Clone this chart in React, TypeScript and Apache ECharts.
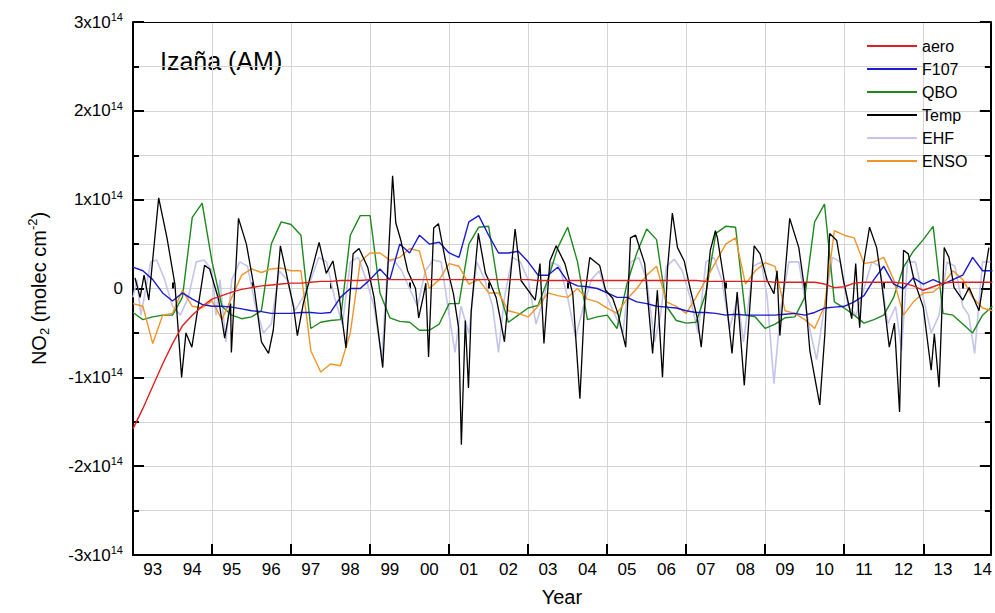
import React, { useEffect, useRef } from "react";
import * as echarts from "echarts";

const START_YEAR = 1993;
const STEP = 0.25;

const aero = [-1.58,-1.35,-1.1,-0.85,-0.62,-0.42,-0.3,-0.2,-0.12,-0.08,-0.04,-0.01,0.01,0.03,0.04,0.05,0.06,0.06,0.07,0.08,0.08,0.09,0.09,0.09,0.1,0.1,0.1,0.1,0.1,0.1,0.1,0.1,0.1,0.1,0.1,0.1,0.1,0.1,0.1,0.1,0.1,0.09,0.09,0.09,0.09,0.09,0.09,0.09,0.09,0.09,0.09,0.09,0.09,0.09,0.09,0.09,0.09,0.09,0.08,0.08,0.08,0.08,0.08,0.08,0.08,0.07,0.07,0.07,0.07,0.07,0.05,0.01,0.02,0.06,0.07,0.07,0.07,0.07,0.06,0.03,-0.02,0.02,0.06,0.07,0.07,0.07,0.07,0.07];

const f107 = [0.24,0.2,0.1,-0.05,-0.14,-0.05,-0.12,-0.18,-0.2,-0.2,-0.21,-0.23,-0.25,-0.26,-0.28,-0.28,-0.28,-0.27,-0.27,-0.28,-0.27,-0.1,0.0,0.0,0.1,0.22,0.1,0.5,0.4,0.6,0.5,0.52,0.4,0.35,0.75,0.82,0.6,0.4,0.4,0.42,0.3,0.15,0.15,0.24,0.08,0.03,0.02,0.0,-0.05,-0.1,-0.1,-0.15,-0.17,-0.2,-0.21,-0.22,-0.25,-0.27,-0.27,-0.28,-0.3,-0.29,-0.3,-0.3,-0.3,-0.3,-0.29,-0.28,-0.3,-0.27,-0.22,-0.21,-0.2,-0.15,-0.08,0.1,0.25,0.05,0.0,0.12,0.05,0.1,0.05,0.1,0.15,0.35,0.2,0.2];

const qbo = [-0.27,-0.35,-0.32,-0.3,-0.3,-0.1,0.8,0.96,0.3,-0.2,-0.3,-0.34,-0.32,-0.25,0.5,0.75,0.72,0.6,-0.45,-0.38,-0.36,-0.35,0.6,0.82,0.82,-0.05,-0.33,-0.37,-0.38,-0.47,-0.47,-0.4,-0.17,-0.17,0.5,0.69,0.7,0.0,-0.38,-0.3,-0.22,-0.19,0.1,0.46,0.69,0.3,-0.35,-0.32,-0.3,-0.45,0.05,0.4,0.67,0.55,-0.2,-0.36,-0.39,-0.38,-0.05,0.62,0.7,0.69,-0.3,-0.32,-0.45,-0.4,-0.33,-0.32,-0.1,0.75,0.95,-0.15,-0.22,-0.3,-0.39,-0.35,-0.3,-0.1,0.24,0.42,0.55,0.7,-0.28,-0.3,-0.4,-0.5,-0.3,-0.2];

const enso = [-0.17,-0.2,-0.62,-0.3,-0.28,-0.02,-0.2,-0.22,-0.14,-0.35,-0.1,0.15,0.22,0.18,0.22,0.23,0.2,0.2,-0.7,-0.94,-0.85,-0.87,-0.5,0.3,0.4,0.4,0.32,0.35,0.45,0.42,0.0,0.1,0.28,0.25,0.05,0.1,-0.05,-0.05,-0.25,-0.28,-0.32,-0.2,-0.05,-0.08,-0.1,0.0,-0.12,-0.15,-0.22,-0.28,-0.12,0.0,0.15,0.25,-0.15,-0.2,-0.28,-0.1,0.1,0.3,0.5,0.57,0.05,0.2,0.29,0.25,-0.25,-0.28,-0.35,-0.45,-0.2,0.65,0.6,0.57,0.28,0.3,0.35,0.1,-0.3,-0.15,-0.05,-0.04,0.05,0.2,0.1,-0.1,-0.22,-0.25];

const temp: [number, number][] = [[1993.05,0.12],[1993.18,-0.1],[1993.28,0.15],[1993.4,-0.13],[1993.65,1.02],[1993.86,0.57],[1994.06,0.05],[1994.23,-1.0],[1994.34,-0.5],[1994.49,-0.66],[1994.81,0.26],[1994.94,0.22],[1995.17,-0.13],[1995.32,-0.56],[1995.47,-0.17],[1995.49,-0.72],[1995.67,0.79],[1995.87,0.5],[1996.07,0],[1996.25,-0.6],[1996.43,-0.73],[1996.55,-0.47],[1996.73,0.48],[1996.88,0.17],[1997.06,-0.2],[1997.16,-0.53],[1997.31,-0.17],[1997.71,0.52],[1997.89,0.17],[1998.06,0.31],[1998.21,-0.06],[1998.39,-0.67],[1998.57,0.39],[1998.72,0.45],[1998.94,0.24],[1999.1,-0.1],[1999.32,-0.89],[1999.57,1.27],[1999.65,0.74],[1999.78,0.54],[1999.95,0.2],[2000.15,0],[2000.23,-0.33],[2000.36,-0.06],[2000.41,0.06],[2000.48,-0.77],[2000.61,0.68],[2000.73,0.73],[2000.91,0.31],[2001.11,-0.06],[2001.24,-0.44],[2001.31,-1.76],[2001.41,-0.36],[2001.49,-1.12],[2001.56,-0.25],[2001.74,0.62],[2001.92,0.17],[2002.04,0.06],[2002.19,-0.1],[2002.29,-0.33],[2002.4,-0.6],[2002.5,-0.1],[2002.67,0.67],[2002.82,0.09],[2003.0,-0.02],[2003.18,-0.13],[2003.3,0.28],[2003.4,-0.62],[2003.55,0.31],[2003.71,0.48],[2003.93,0.28],[2004.13,-0.06],[2004.31,-1.24],[2004.44,-0.06],[2004.56,0.35],[2004.81,0.26],[2004.96,-0.02],[2005.14,-0.11],[2005.27,-0.28],[2005.47,-0.66],[2005.59,0.57],[2005.72,0.6],[2005.95,0.28],[2006.15,-0.73],[2006.27,-0.02],[2006.4,-1.0],[2006.53,0.24],[2006.65,0.85],[2006.78,0.46],[2006.95,0.31],[2007.11,-0.02],[2007.28,-0.33],[2007.38,-0.66],[2007.61,0.43],[2007.74,0.65],[2007.79,0.57],[2007.96,0.09],[2008.16,-0.73],[2008.29,-0.04],[2008.47,-1.09],[2008.72,0.48],[2008.87,0.39],[2009.05,0.09],[2009.22,-0.06],[2009.3,0.2],[2009.37,-0.53],[2009.62,0.79],[2009.85,0.46],[2010.0,-0.02],[2010.13,-0.7],[2010.38,-1.31],[2010.51,-0.51],[2010.63,0.62],[2010.81,0.54],[2010.98,0.09],[2011.19,-0.34],[2011.29,0.28],[2011.39,-0.44],[2011.49,0.28],[2011.64,0.69],[2011.82,0.46],[2011.94,0.09],[2012.14,-0.66],[2012.27,-0.39],[2012.4,-1.39],[2012.5,0.43],[2012.62,0.39],[2012.77,0.09],[2013.0,-0.21],[2013.2,-0.92],[2013.28,-0.51],[2013.4,-1.11],[2013.53,0.46],[2013.65,0.35],[2013.78,0.01],[2014.0,-0.13],[2014.16,0.01],[2014.41,-0.25],[2014.66,0.46]];

const ehf: [number, number][] = [[1993.0,-0.1],[1993.1,0.1],[1993.2,-0.3],[1993.45,0.3],[1993.6,0.32],[1993.8,0.1],[1994.0,-0.2],[1994.2,-0.3],[1994.4,-0.1],[1994.6,0.3],[1994.8,0.32],[1995.0,0.2],[1995.1,-0.3],[1995.2,0.1],[1995.35,-0.6],[1995.5,0.1],[1995.7,0.3],[1995.9,0.25],[1996.1,-0.2],[1996.3,-0.5],[1996.5,-0.4],[1996.7,0.2],[1996.9,0.1],[1997.1,-0.25],[1997.3,-0.1],[1997.5,0.1],[1997.7,0.35],[1997.9,0.3],[1998.1,-0.1],[1998.3,-0.4],[1998.5,0.3],[1998.7,0.35],[1998.9,0.1],[1999.1,-0.2],[1999.3,-0.78],[1999.45,0.3],[1999.6,0.32],[1999.8,0.2],[2000.0,0.0],[2000.2,-0.2],[2000.4,0.2],[2000.6,0.32],[2000.8,0.3],[2001.0,-0.3],[2001.15,-0.72],[2001.3,-0.2],[2001.5,-0.5],[2001.7,0.3],[2001.9,0.1],[2002.1,-0.2],[2002.25,-0.72],[2002.4,-0.1],[2002.6,0.35],[2002.8,0.3],[2003.0,0.1],[2003.2,-0.4],[2003.4,-0.1],[2003.6,0.3],[2003.8,0.25],[2004.0,-0.1],[2004.2,-0.55],[2004.4,-0.2],[2004.6,0.1],[2004.8,0.2],[2005.0,-0.1],[2005.2,-0.3],[2005.4,-0.5],[2005.6,0.3],[2005.8,0.35],[2006.0,0.1],[2006.2,-0.6],[2006.35,-0.3],[2006.5,0.25],[2006.7,0.33],[2006.9,0.2],[2007.1,-0.1],[2007.3,-0.5],[2007.5,0.3],[2007.7,0.35],[2007.9,0.1],[2008.1,-0.45],[2008.3,-0.1],[2008.45,-0.6],[2008.7,0.25],[2008.9,0.3],[2009.05,-0.1],[2009.22,-1.07],[2009.4,-0.2],[2009.6,0.3],[2009.85,0.3],[2010.1,-0.4],[2010.3,-0.8],[2010.5,-0.2],[2010.7,0.35],[2010.9,0.3],[2011.1,-0.2],[2011.3,-0.3],[2011.5,0.0],[2011.7,0.3],[2011.9,0.25],[2012.1,-0.4],[2012.3,-0.2],[2012.45,-0.7],[2012.6,0.3],[2012.8,0.3],[2013.0,-0.1],[2013.2,-0.5],[2013.4,-0.3],[2013.6,0.3],[2013.8,0.25],[2014.0,-0.2],[2014.15,-0.3],[2014.3,-0.73],[2014.5,0.3],[2014.7,0.3]];

const yearLabels = ["93","94","95","96","97","98","99","00","01","02","03","04","05","06","07","08","09","10","11","12","13","14"];
const yTickValues = [-3, -2, -1, 0, 1, 2, 3];
const legendNames = ["aero", "F107", "QBO", "Temp", "EHF", "ENSO"];

const FONT = "Liberation Sans";

function quarterly(vals: number[]): [number, number][] {
  return vals.map((v, i) => [START_YEAR + i * STEP, v]);
}

export default function App() {
  const ref = useRef<HTMLDivElement>(null);
  useEffect(() => {
    document.body.style.margin = "0";
    const chart = echarts.init(ref.current!, null, { renderer: "svg" });
    const labelYears = yearLabels.map((_, i) => START_YEAR + i + 0.5);
    const oddYears = yearLabels.map((_, i) => START_YEAR + i).filter((y) => y % 2 === 1);
    const evenYears = yearLabels.map((_, i) => START_YEAR + i).filter((y) => y % 2 === 0);
    const xBase = { type: "value", min: 1993, max: 2014.71, interval: 1 };
    const yFmt = (v: number) => {
      if (!yTickValues.includes(v)) return "";
      if (v === 0) return "0";
      return `${v}x10{s|14}`;
    };
    const yRich = { s: { fontSize: 11, fontFamily: FONT, color: "#000", padding: [0, 0, 10, 0] } };
    const mk = (name: string, data: [number, number][], color: string, width = 1.4) => ({
      name, type: "line", data, symbol: "none", showSymbol: false,
      lineStyle: { color, width }, itemStyle: { color }, clip: true,
    });
    chart.setOption({
      animation: false,
      textStyle: { fontFamily: FONT },
      grid: { left: 133, right: 2, top: 22, bottom: 58 },
      xAxis: [
        {
          ...xBase, position: "bottom",
          axisLine: { show: true, onZero: false, lineStyle: { color: "#000", width: 2 } },
          axisTick: { show: true, inside: true, length: 11, customValues: oddYears, lineStyle: { width: 2, color: "#000" } },
          axisLabel: {
            show: true, customValues: labelYears, fontSize: 17, color: "#000", margin: 6,
            formatter: (v: number) => yearLabels[Math.floor(v) - START_YEAR] ?? "",
          },
          splitLine: { show: true, lineStyle: { color: "#d4d4d4", width: 1 } },
          name: "Year", nameLocation: "middle", nameGap: 32,
          nameTextStyle: { fontSize: 20, color: "#000", fontFamily: FONT },
        },
        {
          ...xBase, position: "bottom",
          axisLine: { show: false },
          axisTick: { show: true, inside: true, length: 6, customValues: evenYears, lineStyle: { width: 2, color: "#000" } },
          axisLabel: { show: false },
          splitLine: { show: false },
        },
        {
          ...xBase, position: "top",
          axisLine: { show: true, onZero: false, lineStyle: { color: "#000", width: 1 } },
          axisTick: { show: false }, axisLabel: { show: false }, splitLine: { show: false },
        },
      ],
      yAxis: [
        {
          type: "value", min: -3, max: 3, interval: 1, position: "left",
          axisLine: { show: true, onZero: false, lineStyle: { color: "#000", width: 2 } },
          axisTick: { show: true, inside: true, length: 11, lineStyle: { width: 2, color: "#000" } },
          minorTick: { show: true, splitNumber: 2, length: 6, lineStyle: { width: 2, color: "#000" } },
          splitLine: { show: true, lineStyle: { color: "#d4d4d4" } },
          minorSplitLine: { show: true, lineStyle: { color: "#d4d4d4" } },
          axisLabel: { fontSize: 17, color: "#000", margin: 10, formatter: yFmt, rich: yRich },
          name: "{a|NO}{b|2}{a| (molec cm}{c|-2}{a|)}",
          nameLocation: "middle", nameGap: 82, nameRotate: 90,
          nameTextStyle: {
            rich: {
              a: { fontSize: 20, color: "#000", fontFamily: FONT },
              b: { fontSize: 13, color: "#000", fontFamily: FONT, padding: [12, 0, 0, 0] },
              c: { fontSize: 13, color: "#000", fontFamily: FONT, padding: [0, 0, 12, 0] },
            },
          },
        },
        {
          type: "value", min: -3, max: 3, interval: 1, position: "right",
          axisLine: { show: true, onZero: false, lineStyle: { color: "#000", width: 2 } },
          axisTick: { show: true, inside: true, length: 11, lineStyle: { width: 2, color: "#000" } },
          minorTick: { show: true, splitNumber: 2, length: 6, lineStyle: { width: 2, color: "#000" } },
          splitLine: { show: false }, axisLabel: { show: false },
        },
      ],
      legend: {
        left: 862, top: 32, orient: "vertical", itemWidth: 50, itemHeight: 2, itemGap: 5,
        icon: "rect",
        textStyle: { fontSize: 16, color: "#000", fontFamily: FONT, lineHeight: 18 },
        data: legendNames,
      },
      graphic: [
        { type: "text", left: 160, top: 48, style: { text: "Izaña (AM)", fontSize: 25, fill: "#000", fontFamily: FONT } },
      ],
      series: [
        mk("EHF", ehf, "#c4c4ec", 1.6),
        mk("QBO", quarterly(qbo), "#1e8a1e"),
        mk("ENSO", quarterly(enso), "#f0952a"),
        mk("F107", quarterly(f107), "#1a1ad0"),
        mk("Temp", temp, "#000000", 1.3),
        mk("aero", quarterly(aero), "#e02020"),
      ],
    });
    return () => chart.dispose();
  }, []);
  return <div ref={ref} style={{ width: 995, height: 613 }} />;
}
